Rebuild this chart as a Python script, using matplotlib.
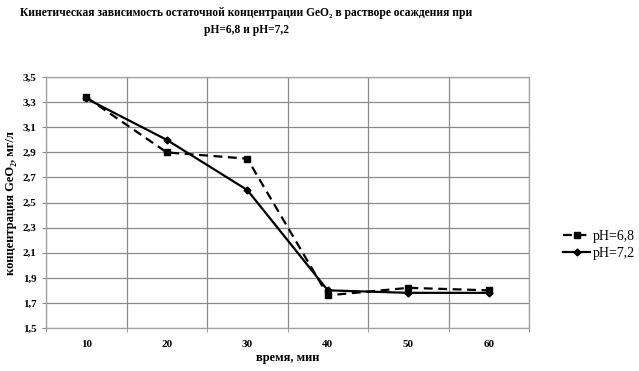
import numpy as np
import matplotlib
matplotlib.use('Agg')
import matplotlib.pyplot as plt
from matplotlib.ticker import FixedLocator, FuncFormatter

# время, мин
vremya = ['10', '20', '30', '40', '50', '60']
# концентрация GeO2, мг/л
ph68 = [3.34, 2.90, 2.85, 1.76, 1.82, 1.80]
ph72 = [3.33, 3.00, 2.60, 1.80, 1.78, 1.78]
yticks = [1.5, 1.7, 1.9, 2.1, 2.3, 2.5, 2.7, 2.9, 3.1, 3.3, 3.5]

plt.rcParams['font.family'] = ['Liberation Serif', 'DejaVu Serif']

fig = plt.figure(figsize=(6.39, 3.71), dpi=100)
ax = fig.add_axes([0.072, 0.116, 0.756, 0.676])

x = np.arange(len(vremya))
ax.plot(x, ph68, color='black', linestyle=(0, (4, 2.5)), linewidth=1.6,
        marker='s', markersize=5, label='pH=6,8')
ax.plot(x, ph72, color='black', linestyle='-', linewidth=1.6,
        marker='D', markersize=3.5, label='pH=7,2')

ax.set_xlim(-0.5, len(vremya) - 0.5)
ax.set_ylim(1.5, 3.5)
ax.set_xticks(x)
ax.set_xticklabels(vremya, fontsize=8, fontweight='bold')
ax.xaxis.set_minor_locator(FixedLocator(np.arange(-0.5, len(vremya), 1)))
ax.set_yticks(yticks)
ax.yaxis.set_major_formatter(FuncFormatter(lambda v, p: ('%.1f' % v).replace('.', ',')))
for lab in ax.get_yticklabels():
    lab.set_fontweight('bold')
    lab.set_fontsize(8)

ax.tick_params(axis='x', which='major', length=0, pad=9)
ax.tick_params(axis='x', which='minor', length=3, color='#888888')
ax.tick_params(axis='y', length=3, color='#888888', pad=4)
ax.grid(True, axis='y', color='#8a8a8a', linewidth=0.9)
ax.grid(True, axis='x', which='minor', color='#8a8a8a', linewidth=0.9)
ax.set_axisbelow(True)
for s in ax.spines.values():
    s.set_color('#a0a0a0')
    s.set_linewidth(0.9)

ax.set_xlabel('время, мин', fontsize=9, fontweight='bold', labelpad=2)
ax.set_ylabel('концентрация GeO₂, мг/л', fontsize=9, fontweight='bold', labelpad=4)

fig.text(0.385, 0.98, 'Кинетическая зависимость остаточной концентрации GeO₂ в растворе осаждения при\npH=6,8 и pH=7,2',
         ha='center', va='top', fontsize=8.3, fontweight='bold', linespacing=1.5)

ax.legend(loc='center left', bbox_to_anchor=(1.045, 0.33), frameon=False,
          fontsize=10, handlelength=1.9, handletextpad=0.2, labelspacing=0.3)

fig.savefig('out.png', dpi=100)
